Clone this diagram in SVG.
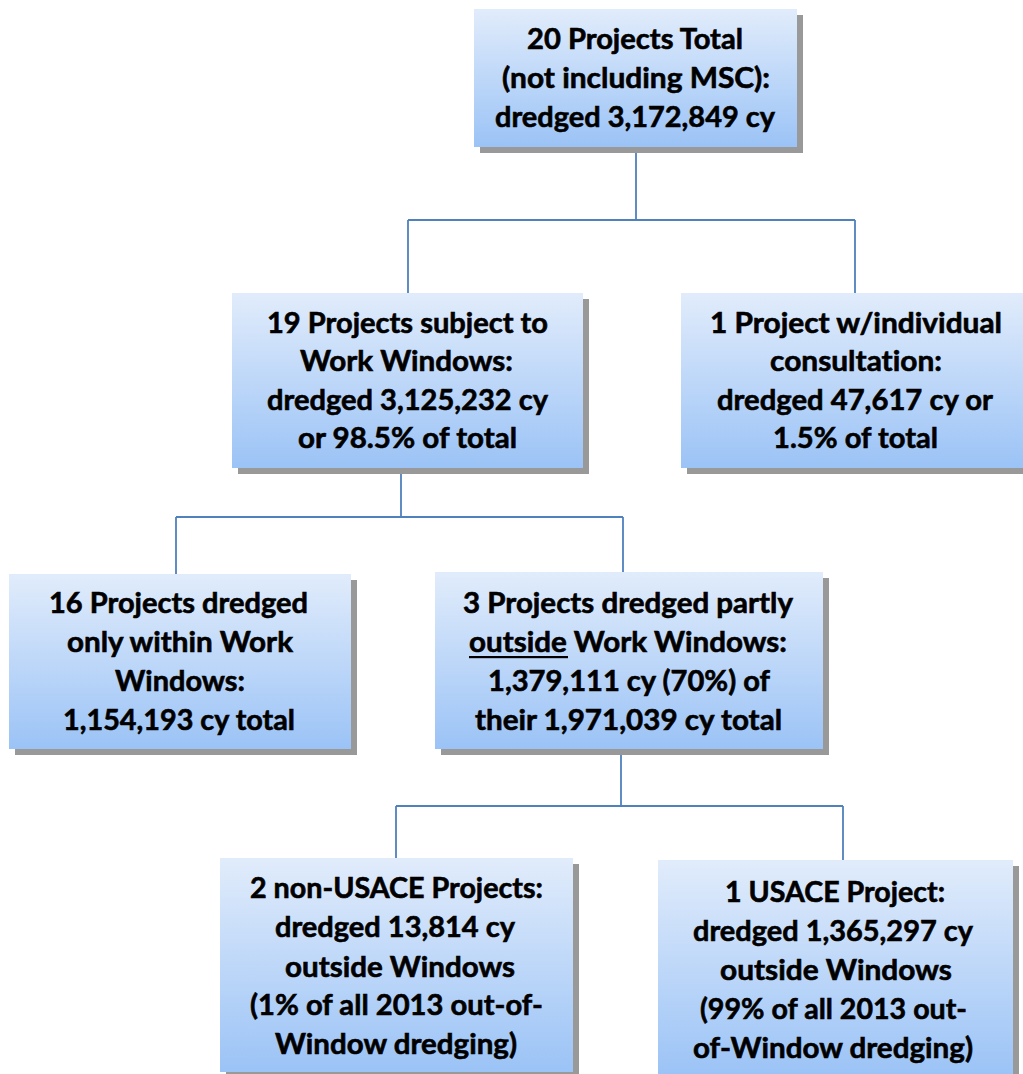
<svg xmlns="http://www.w3.org/2000/svg" width="1023" height="1074" viewBox="0 0 1023 1074">
<defs>
<linearGradient id="g" x1="0" y1="0" x2="0" y2="1">
<stop offset="0" stop-color="#e1ecfb"/>
<stop offset="1" stop-color="#9bc3f6"/>
</linearGradient>
</defs>
<style>
.box{fill:url(#g);}
.sh{fill:#999999;}
.t{font-family:Lato,"Open Sans","Liberation Sans",sans-serif;font-weight:bold;font-size:29px;fill:#000000;stroke:#000000;stroke-width:0.6;font-variant-ligatures:none;font-feature-settings:"liga" 0, "clig" 0, "dlig" 0;}
.c{stroke:#4f81bd;stroke-width:1.8;fill:none;}
</style>
<rect width="1023" height="1074" fill="#ffffff"/>
<g id="connectors">
<path class="c" d="M636,147 V220 M408,220 H855 M408,220 V293 M855,220 V293"/>
<path class="c" d="M401,468 V517 M176,517 H623 M176,517 V574 M623,517 V572"/>
<path class="c" d="M621,749 V806 M396,806 H843 M396,806 V858 M843,806 V860"/>
</g>
<g id="n1">
<rect class="sh" x="480" y="15" width="323" height="138"/>
<rect class="box" x="474" y="9" width="323" height="138"/>
<text class="t" x="527" y="49" textLength="216" lengthAdjust="spacingAndGlyphs">20 Projects Total</text>
<text class="t" x="502" y="88" textLength="268" lengthAdjust="spacingAndGlyphs">(not including MSC):</text>
<text class="t" x="495" y="127" textLength="280" lengthAdjust="spacingAndGlyphs">dredged 3,172,849 cy</text>
</g>
<g id="n2">
<rect class="sh" x="238" y="299" width="351" height="175"/>
<rect class="box" x="232" y="293" width="351" height="175"/>
<text class="t" x="267" y="333" textLength="281" lengthAdjust="spacingAndGlyphs">19 Projects subject to</text>
<text class="t" x="300" y="371" textLength="213" lengthAdjust="spacingAndGlyphs">Work Windows:</text>
<text class="t" x="267" y="410" textLength="281" lengthAdjust="spacingAndGlyphs">dredged 3,125,232 cy</text>
<text class="t" x="298" y="448" textLength="219" lengthAdjust="spacingAndGlyphs">or 98.5% of total</text>
</g>
<g id="n3">
<rect class="sh" x="687" y="299" width="351" height="175"/>
<rect class="box" x="681" y="293" width="351" height="175"/>
<text class="t" x="710" y="333" textLength="292" lengthAdjust="spacingAndGlyphs">1 Project w/individual</text>
<text class="t" x="770" y="371" textLength="172" lengthAdjust="spacingAndGlyphs">consultation:</text>
<text class="t" x="717" y="410" textLength="276" lengthAdjust="spacingAndGlyphs">dredged 47,617 cy or</text>
<text class="t" x="773" y="448" textLength="165" lengthAdjust="spacingAndGlyphs">1.5% of total</text>
</g>
<g id="n4">
<rect class="sh" x="15" y="580" width="342" height="175"/>
<rect class="box" x="9" y="574" width="342" height="175"/>
<text class="t" x="49" y="613" textLength="259" lengthAdjust="spacingAndGlyphs">16 Projects dredged</text>
<text class="t" x="67" y="652" textLength="226" lengthAdjust="spacingAndGlyphs">only within Work</text>
<text class="t" x="115" y="691" textLength="130" lengthAdjust="spacingAndGlyphs">Windows:</text>
<text class="t" x="63" y="730" textLength="232" lengthAdjust="spacingAndGlyphs">1,154,193 cy total</text>
</g>
<g id="n5">
<rect class="sh" x="441" y="578" width="388" height="177"/>
<rect class="box" x="435" y="572" width="388" height="177"/>
<text class="t" x="463" y="613" textLength="330" lengthAdjust="spacingAndGlyphs">3 Projects dredged partly</text>
<text class="t" x="469" y="652" textLength="318" lengthAdjust="spacingAndGlyphs">outside Work Windows:</text>
<rect x="469" y="656" width="99" height="2.2" fill="#000000"/>
<text class="t" x="488" y="691" textLength="282" lengthAdjust="spacingAndGlyphs">1,379,111 cy (70%) of</text>
<text class="t" x="475" y="730" textLength="307" lengthAdjust="spacingAndGlyphs">their 1,971,039 cy total</text>
</g>
<g id="n6">
<rect class="sh" x="226" y="864" width="353" height="216"/>
<rect class="box" x="220" y="858" width="353" height="214"/>
<text class="t" x="250" y="898" textLength="293" lengthAdjust="spacingAndGlyphs">2 non-USACE Projects:</text>
<text class="t" x="275" y="937" textLength="240" lengthAdjust="spacingAndGlyphs">dredged 13,814 cy</text>
<text class="t" x="285" y="977" textLength="230" lengthAdjust="spacingAndGlyphs">outside Windows</text>
<text class="t" x="250" y="1015" textLength="293" lengthAdjust="spacingAndGlyphs">(1% of all 2013 out-of-</text>
<text class="t" x="275" y="1054" textLength="242" lengthAdjust="spacingAndGlyphs">Window dredging)</text>
</g>
<g id="n7">
<rect class="sh" x="664" y="866" width="355" height="216"/>
<rect class="box" x="658" y="860" width="355" height="216"/>
<text class="t" x="725" y="902" textLength="220" lengthAdjust="spacingAndGlyphs">1 USACE Project:</text>
<text class="t" x="693" y="941" textLength="280" lengthAdjust="spacingAndGlyphs">dredged 1,365,297 cy</text>
<text class="t" x="720" y="980" textLength="232" lengthAdjust="spacingAndGlyphs">outside Windows</text>
<text class="t" x="700" y="1019" textLength="267" lengthAdjust="spacingAndGlyphs">(99% of all 2013 out-</text>
<text class="t" x="693" y="1058" textLength="280" lengthAdjust="spacingAndGlyphs">of-Window dredging)</text>
</g>
</svg>
